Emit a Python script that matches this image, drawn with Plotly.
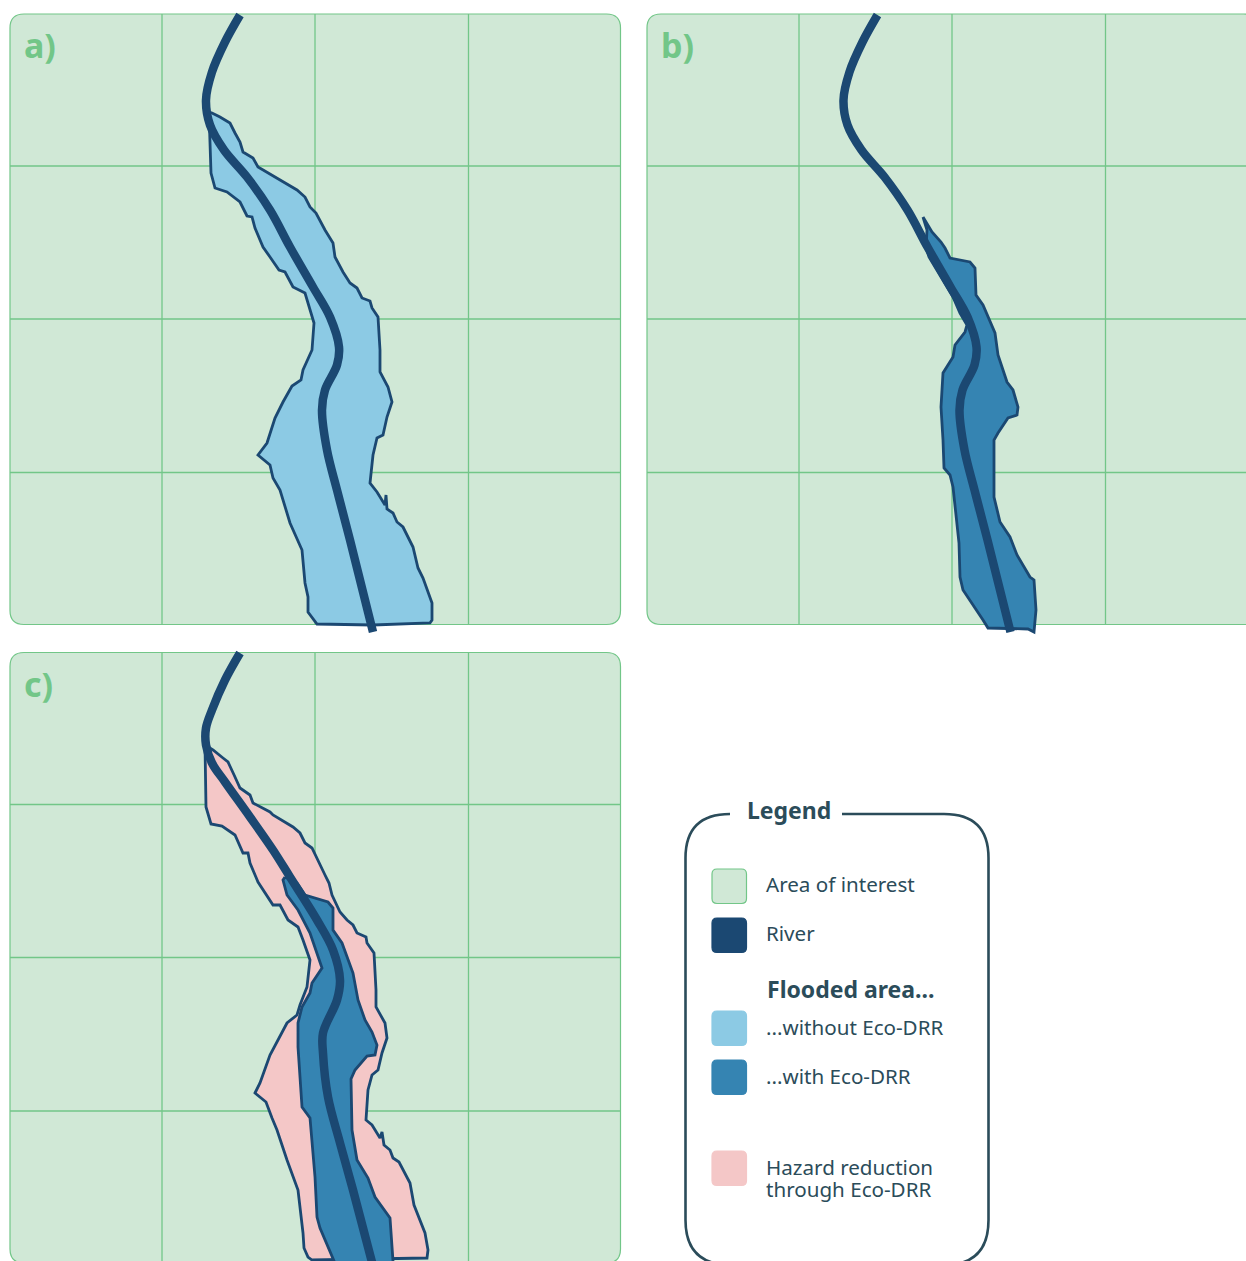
import plotly.graph_objects as go

# ---- data (page pixel coordinates) ----
river_a_x = [240,225,212,206,210,224,247,270,290,313,330,339,337,325,322,327,337,350,373]
river_a_y = [15,42,72,100,125,150,177,210,247,287,317,347,365,390,410,450,490,540,632]
river_c_x = [240,225,212,206,206,212,225,250,273,290,317,333,340,337,323,323,328,340,353,378]
river_c_y = [653,680,710,728,745,763,782,817,850,877,920,950,980,1000,1033,1053,1097,1143,1190,1285]

flood_a_x = [209,212,220,230,235,240,243,253,258,265,273,278,288,297,305,310,316,325,333,335,343,350,357,362,370,372,378,380,380,388,392,387,383,377,373,370,377,385,386,387,393,397,403,413,418,423,432,432,430,373,317,312,308,308,305,302,290,280,273,270,258,267,275,283,292,301,303,312,314,305,293,285,279,270,263,255,252,247,240,227,215,211,210]
flood_a_y = [112,113,117,123,133,142,152,158,167,171,176,179,184,190,197,207,213,230,243,257,272,283,288,298,301,308,317,350,372,387,402,417,435,438,455,483,492,505,495,509,513,522,527,547,568,578,603,620,623,625,624,617,612,597,583,550,523,490,478,465,455,443,418,402,386,380,370,350,323,293,287,272,270,257,247,228,217,216,202,192,188,173,133]

with_b_x = [923,932,941,945,950,970,975,976,983,995,998,1007,1013,1018,1017,1008,998,994,994,1000,1010,1017,1030,1034,1036,1034,1028,988,983,963,960,959,953,950,944,943,941,943,953,955,965,967,960,953,929,926,927]
with_b_y = [217,232,242,248,258,262,268,295,305,333,355,382,390,407,415,418,433,440,497,522,537,555,577,580,610,632,629,628,620,590,577,543,487,475,468,440,407,373,357,345,332,325,313,297,257,247,230]

reduction_c_x = [205,213,223,228,235,240,250,253,270,273,293,300,305,312,325,329,332,340,347,353,357,366,367,374,376,376,385,387,382,378,372,368,366,372,380,382,384,390,393,399,410,414,425,428,427,312,308,304,303,298,287,277,272,266,255,260,270,278,287,297,300,307,310,303,298,288,280,273,265,258,250,248,243,235,222,211,206]
reduction_c_y = [745,750,758,762,777,788,795,803,812,815,827,833,843,848,875,883,895,912,920,925,933,937,943,953,990,1007,1023,1038,1053,1070,1075,1090,1120,1125,1138,1132,1145,1150,1158,1162,1183,1205,1233,1250,1258,1260,1257,1248,1233,1190,1160,1130,1118,1102,1093,1083,1055,1040,1023,1015,1005,987,960,940,927,920,905,905,892,882,863,853,853,835,826,824,807]

with_c_x = [285,297,305,328,333,333,342,353,358,365,372,377,375,367,355,351,352,357,368,375,390,393,393,340,320,317,315,310,302,298,298,302,310,312,322,310,298,287,283]
with_c_y = [877,883,895,902,908,930,943,973,1000,1020,1032,1045,1055,1056,1070,1079,1130,1160,1178,1197,1218,1261,1275,1275,1228,1217,1177,1118,1107,1047,1023,1007,993,983,968,933,910,895,880]

# panels: left, top, side length
panel_names = ["a)", "b)", "c)"]
panel_left = [10, 647, 10]
panel_top = [14, 14, 652.5]
panel_side = 610.5
grid_steps = [152, 305, 458.5]

swatch_top = [869, 918, 1011, 1060, 1151]
swatch_fill = ["#D0E8D6", "#1B4872", "#8CCAE4", "#3584B2", "#F4C7C7"]
swatch_line = ["#72C688", "#1B4872", "#8CCAE4", "#3584B2", "#F4C7C7"]
legend_labels = ["Area of interest", "River", "...without Eco-DRR", "...with Eco-DRR", "Hazard reduction", "through Eco-DRR"]
legend_label_y = [884, 933, 1027, 1076, 1167, 1189]

GREEN, RIVER, LIGHT, DARK, PINK, INK = "#72C688", "#1B4872", "#8CCAE4", "#3584B2", "#F4C7C7", "#2B4C5A"
FONT = "Noto Sans"


def rounded(x0, y0, x1, y1, r):
    return (f"M{x0+r},{y0} L{x1-r},{y0} Q{x1},{y0} {x1},{y0+r} L{x1},{y1-r} Q{x1},{y1} {x1-r},{y1} "
            f"L{x0+r},{y1} Q{x0},{y1} {x0},{y1-r} L{x0},{y0+r} Q{x0},{y0} {x0+r},{y0} Z")


fig = go.Figure()
shapes, annotations = [], []

for name, left, top in zip(panel_names, panel_left, panel_top):
    shapes.append(dict(type="path", path=rounded(left, top, left + panel_side, top + panel_side, 14),
                       fillcolor="#D0E8D6", line=dict(color=GREEN, width=1.2), layer="below"))
    for g in grid_steps:
        fig.add_trace(go.Scatter(x=[left + g, left + g], y=[top, top + panel_side], mode="lines",
                                 line=dict(color=GREEN, width=1.3), hoverinfo="skip"))
        fig.add_trace(go.Scatter(x=[left, left + panel_side], y=[top + g, top + g], mode="lines",
                                 line=dict(color=GREEN, width=1.3), hoverinfo="skip"))
    annotations.append(dict(x=left + 12, y=top + 31, text=f"<b>{name}</b>", showarrow=False, xanchor="left",
                            yanchor="middle", font=dict(family=FONT, size=34, color=GREEN)))


def area(x, y, color):
    fig.add_trace(go.Scatter(x=list(x) + [x[0]], y=list(y) + [y[0]], mode="lines", fill="toself", fillcolor=color,
                             line=dict(color=RIVER, width=2.8), hoverinfo="skip"))


def river(x, y):
    fig.add_trace(go.Scatter(x=x, y=y, mode="lines", line=dict(color=RIVER, width=8.5, shape="spline", smoothing=1),
                             hoverinfo="skip"))


area(flood_a_x, flood_a_y, LIGHT)
river(river_a_x, river_a_y)
area(with_b_x, with_b_y, DARK)
river([v + 637.5 for v in river_a_x], river_a_y)
area(reduction_c_x, reduction_c_y, PINK)
area(with_c_x, with_c_y, DARK)
river(river_c_x, river_c_y)

# legend frame with a gap for its title
shapes.append(dict(type="path",
                   path="M730,814 Q685.5,814 685.5,858 L685.5,1220 Q685.5,1265 731,1265 L944,1265 Q988.5,1265 988.5,1220 "
                        "L988.5,858 Q988.5,814 944,814 L842,814",
                   line=dict(color=INK, width=2.6), fillcolor="rgba(0,0,0,0)"))
for top, fill, edge in zip(swatch_top, swatch_fill, swatch_line):
    shapes.append(dict(type="path", path=rounded(712, top, 746.5, top + 34.5, 5), fillcolor=fill,
                       line=dict(color=edge, width=1.2)))
for label, y in zip(legend_labels, legend_label_y):
    annotations.append(dict(x=764, y=y, text=label, showarrow=False, xanchor="left", yanchor="middle", align="left",
                            font=dict(family=FONT, size=20.6, color=INK)))
annotations.append(dict(x=765, y=989, text="<b>Flooded area...</b>", showarrow=False, xanchor="left",
                        yanchor="middle", font=dict(family=FONT, size=23, color=INK)))
annotations.append(dict(x=745, y=810, text="<b>Legend</b>", showarrow=False, xanchor="left",
                        yanchor="middle", font=dict(family=FONT, size=23, color=INK)))

fig.update_layout(width=1246, height=1261, margin=dict(l=0, r=0, t=0, b=0), showlegend=False,
                  paper_bgcolor="white", plot_bgcolor="white", shapes=shapes, annotations=annotations,
                  xaxis=dict(range=[0, 1246], visible=False, fixedrange=True),
                  yaxis=dict(range=[1261, 0], visible=False, fixedrange=True))
fig.write_html("out.html", post_script="document.body.style.margin='0';document.body.style.overflow='hidden';",
               config=dict(displayModeBar=False))
